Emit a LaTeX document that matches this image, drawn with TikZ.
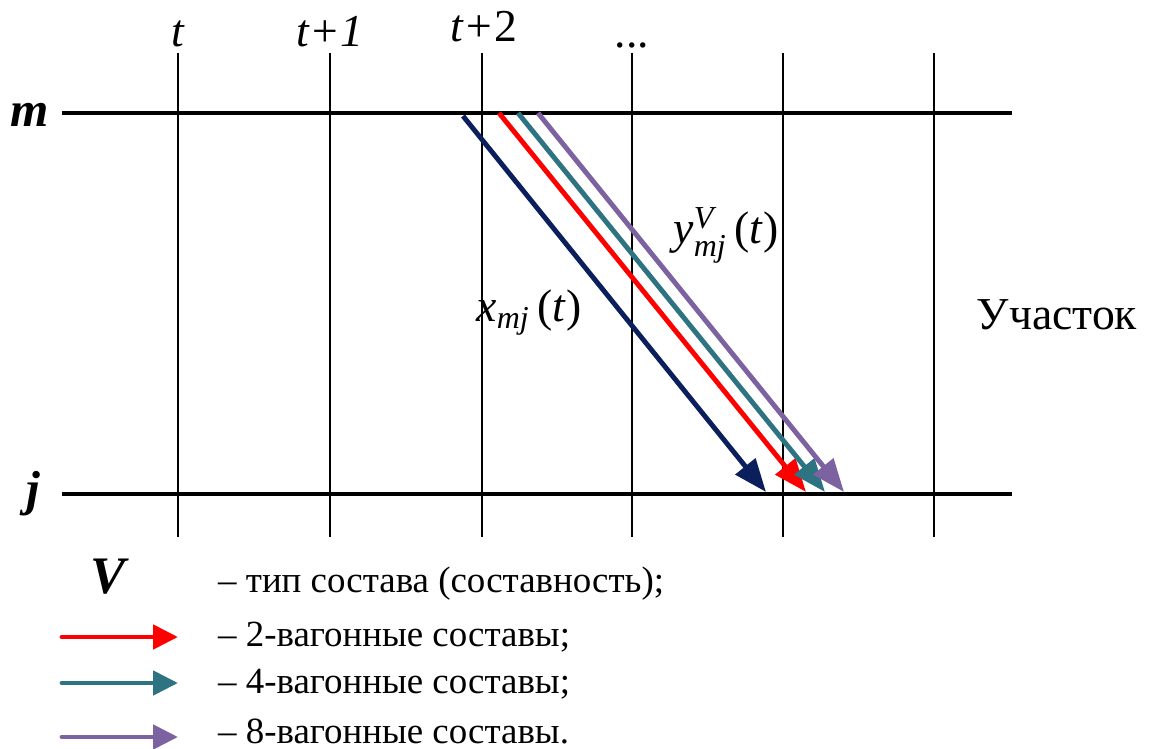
\documentclass[tikz,border=0pt]{standalone}
\usepackage{fontspec}
\usepackage{amsmath}
\setmainfont{LiberationSerif}[Extension=.ttf,UprightFont=*-Regular,BoldFont=*-Bold,ItalicFont=*-Italic,BoldItalicFont=*-BoldItalic]
\usetikzlibrary{arrows.meta}
\definecolor{navytrain}{HTML}{0B1F5C}
\definecolor{redtrain}{HTML}{FF0000}
\definecolor{tealtrain}{HTML}{2E7382}
\definecolor{violettrain}{HTML}{7C62A0}
\begin{document}
\begin{tikzpicture}[x=0.02cm, y=-0.02cm,
  track/.style={line width=2pt},
  slot/.style={line width=0.85pt},
  train/.style={line width=2.8pt,-{Triangle[length=0.66cm,width=0.5cm]}},
  keyarrow/.style={line width=2.8pt,line cap=round,-{Triangle[length=0.5cm,width=0.48cm]}},
  tlabel/.style={anchor=base,font=\fontsize{26}{28}\selectfont\itshape},
  station/.style={anchor=base,font=\fontsize{28}{30}\selectfont\bfseries\itshape},
  formula/.style={anchor=base,font=\fontsize{26}{28}\selectfont},
  keytext/.style={anchor=base west,font=\fontsize{21}{24}\selectfont}]
\useasboundingbox (0,0) rectangle (1152,749);
% stations and track lines
\node[station] (m) at (30,127) {m};
\node[station] (j) at (33,505) {j};
\coordinate (m0) at (62,113); \coordinate (m1) at (1012,113);
\coordinate (j0) at (62,494); \coordinate (j1) at (1012,494);
\draw[track] (m0) -- (m1);
\draw[track] (j0) -- (j1);
% time slots
\foreach \x [count=\i] in {178,330,482,632,783,934} {
  \coordinate (top\i) at (\x,53);
  \coordinate (bot\i) at (\x,537);
  \draw[slot] (top\i) -- (bot\i);
}
\node[tlabel] (t0) at (178,47) {t};
\node[tlabel] (t1) at (330,47) {t+1};
\node[tlabel] (t2) at (484,42) {t+\textup{2}};
\node[tlabel] (tdots) at (632,48) {\textup{...}};
% trains
\coordinate (xs) at (463,116); \coordinate (xe) at (766,492);
\coordinate (rs) at (499,113); \coordinate (re) at (806,492);
\coordinate (gs) at (518,113); \coordinate (ge) at (825,492);
\coordinate (vs) at (538,113); \coordinate (ve) at (844,492);
\draw[train,navytrain] (xs) -- (xe);
\draw[train,redtrain] (rs) -- (re);
\draw[train,tealtrain] (gs) -- (ge);
\draw[train,violettrain] (vs) -- (ve);
\node[formula] (xlab) at (529,322) {\textit{x}$_{\textit{mj}}$\,(\textit{t})};
\node[formula] (ylab) at (726,244) {\textit{y}$^{\textit{V}}_{\textit{mj}}$\,(\textit{t})};
\node[anchor=base,font=\fontsize{26}{28}\selectfont] (sect) at (1057,330) {Участок};
% legend
\node[station,font=\fontsize{30}{32}\selectfont\bfseries\itshape] (vkey) at (108,593) {V};
\node[keytext] (k0) at (212,592) {– тип состава (составность);};
\coordinate (a1) at (62,637); \coordinate (b1) at (178,637);
\coordinate (a2) at (62,683); \coordinate (b2) at (178,683);
\coordinate (a3) at (62,737); \coordinate (b3) at (178,737);
\draw[keyarrow,redtrain] (a1) -- (b1);
\draw[keyarrow,tealtrain] (a2) -- (b2);
\draw[keyarrow,violettrain] (a3) -- (b3);
\node[keytext] (k1) at (212,646) {– 2-вагонные составы;};
\node[keytext] (k2) at (212,693) {– 4-вагонные составы;};
\node[keytext] (k3) at (212,743) {– 8-вагонные составы.};
\end{tikzpicture}
\end{document}
